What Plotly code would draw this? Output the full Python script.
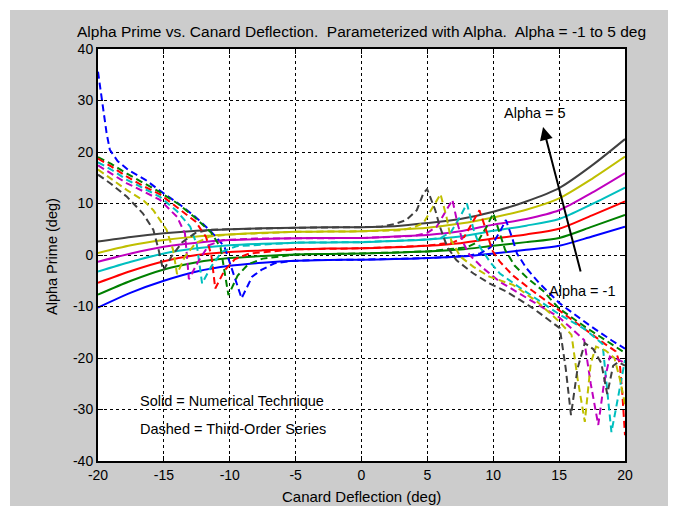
import plotly.graph_objects as go

# ---------------- data ----------------
alpha_labels = ["-1", "0", "1", "2", "3", "4", "5"]
colors = ["#0000ff", "#008000", "#ff0000", "#00bfbf", "#bf00bf", "#bfbf00", "#404040"]

# Solid = Numerical Technique
x_solid = [-20, -17.5, -15, -12.5, -10, -7.5, -5, -2.5, 0, 2.5, 5, 7.5, 10, 12.5, 15, 17.5, 20]
solid_m1 = [-10.2, -7.3, -5.0, -3.2, -2.1, -1.5, -1.1, -0.95, -0.9, -0.8, -0.6, -0.3, 0.3, 1.0, 1.8, 3.6, 5.5]
solid_0 = [-7.7, -5.0, -2.8, -1.4, -0.6, -0.2, 0.1, 0.2, 0.3, 0.45, 0.7, 1.05, 1.8, 2.5, 3.3, 5.5, 7.8]
solid_1 = [-5.4, -3.1, -1.2, 0.0, 0.6, 0.9, 1.1, 1.25, 1.3, 1.5, 1.8, 2.3, 3.2, 4.0, 5.1, 7.7, 10.4]
solid_2 = [-3.2, -1.3, 0.3, 1.3, 1.9, 2.2, 2.4, 2.45, 2.5, 2.7, 3.0, 3.6, 4.7, 5.7, 7.0, 9.9, 13.1]
solid_3 = [-1.3, 0.3, 1.6, 2.4, 2.9, 3.1, 3.25, 3.3, 3.3, 3.6, 3.9, 4.6, 5.9, 7.0, 8.7, 12.1, 15.9]
solid_4 = [0.4, 1.9, 2.9, 3.6, 4.0, 4.3, 4.5, 4.55, 4.6, 4.9, 5.3, 6.1, 7.3, 8.8, 11.0, 14.8, 19.1]
solid_5 = [2.6, 3.5, 4.2, 4.7, 5.0, 5.2, 5.3, 5.4, 5.4, 5.6, 6.2, 7.0, 8.4, 10.4, 13.0, 17.4, 22.5]

# Dashed = Third-Order Series
xd_m1 = [-20, -19.7, -19.35, -19.1, -18.5, -17.7, -16.4, -15.2, -13.9, -12.6, -11.4, -10.4, -9.8, -9.1,
         -8.3, -7.6, -6.6, -5.5, -4, 0, 5, 8.0, 9.0, 9.8, 10.5, 10.96, 11.4, 11.8, 12.5, 13.5, 14.5, 15,
         16, 17.5, 19, 20]
yd_m1 = [35.6, 30.4, 23.7, 20.4, 18.2, 16.5, 14.6, 12.3, 10.0, 7.4, 4.5, 1.6, -3.0, -8.4,
         -4.2, -2.9, -1.6, -1.2, -1.0, -0.9, -0.6, -0.2, 0.3, 1.5, 4.5, 6.8, 3.6, 0.3, -2.5, -5.5, -8.0, -9.3,
         -11.2, -14.0, -16.6, -18.2]

xd_0 = [-20, -19, -17.8, -16.5, -15.3, -13.9, -12.6, -11.4, -10.7, -10.1, -9.4, -8.6, -7.5, -5, 0, 5,
        8.0, 8.8, 9.5, 10.0, 10.5, 10.9, 11.6, 12.6, 13.8, 15, 17, 18.5, 20]
yd_0 = [19.0, 17.7, 15.8, 14.0, 12.2, 9.9, 7.2, 4.3, 1.5, -7.8, -4.0, -1.8, -0.7, 0.1, 0.3, 0.7,
        1.5, 2.5, 5.5, 8.1, 4.0, 1.0, -2.0, -4.5, -7.0, -10.4, -14.0, -16.5, -19.0]

xd_1 = [-20, -19, -17.8, -16.5, -15.3, -14.0, -12.6, -11.8, -11.4, -11.1, -10.4, -9.6, -8.5, -5, 0, 5,
        7.0, 7.8, 8.5, 8.95, 9.5, 9.9, 10.5, 11.5, 13, 15, 17, 18.5, 19.3, 19.6, 19.8, 20]
yd_1 = [18.7, 17.2, 15.2, 13.3, 11.8, 9.3, 6.5, 3.5, 0.0, -6.5, -3.0, -0.8, 0.3, 1.1, 1.3, 1.8,
        2.5, 3.5, 6.5, 8.7, 4.5, 1.0, -1.3, -4.0, -7.0, -10.8, -14.5, -17.3, -18.7, -21.0, -27.0, -35.0]

xd_2 = [-20, -19, -17.8, -16.5, -15.3, -14.0, -13.0, -12.5, -12.1, -11.4, -10.6, -9.5, -5, 0, 5,
        6.0, 6.8, 7.5, 8.0, 8.5, 9.0, 9.8, 10.5, 12, 15, 17, 18.3, 18.6, 18.97, 19.3, 19.6, 20]
yd_2 = [18.0, 16.6, 14.6, 12.8, 11.3, 8.5, 5.5, 2.0, -5.5, -2.2, 0.6, 1.7, 2.4, 2.5, 3.0,
        3.3, 4.5, 7.5, 10.0, 5.0, 1.5, -1.5, -3.6, -6.3, -11.5, -14.5, -17.3, -25.0, -34.4, -30.0, -25.6, -20.4]

xd_3 = [-20, -19, -17.8, -16.5, -15.3, -14.0, -13.4, -13.1, -12.4, -11.6, -10.5, -8, -5, 0, 4,
        5.0, 5.7, 6.4, 6.9, 7.3, 7.7, 8.2, 9.2, 10.5, 12, 15, 16.9, 17.4, 17.97, 18.4, 18.85, 19.5, 20]
yd_3 = [17.4, 15.8, 13.9, 12.3, 10.7, 7.4, 4.2, -4.7, -1.3, 1.9, 2.9, 3.2, 3.25, 3.3, 3.7,
        4.3, 5.5, 8.5, 10.7, 6.0, 2.5, 0.0, -2.5, -5.2, -7.5, -12.1, -16.5, -25.0, -33.0, -25.0, -19.7, -20.3, -21.0]

xd_4 = [-20, -19, -17.8, -16.5, -15.8, -14.8, -14.3, -14.0, -13.4, -12.6, -11.5, -10, -5, 0, 3,
        3.9, 4.7, 5.44, 6.0, 6.45, 6.8, 7.5, 8.5, 9.7, 11.5, 13.3, 15.0, 15.94, 16.4, 16.95, 17.4,
        17.8, 18.5, 19.2, 19.6, 20]
yd_4 = [16.6, 14.8, 12.6, 10.5, 8.7, 4.9, 1.0, -3.7, -0.3, 2.3, 3.6, 4.0, 4.5, 4.6, 4.8,
        5.3, 6.2, 9.4, 11.8, 7.4, 2.9, -0.3, -2.3, -4.2, -5.8, -9.0, -12.9, -15.5, -24.0, -32.4, -21.0,
        -17.8, -18.5, -20.0, -24.0, -29.0]

xd_5 = [-20, -19, -17.8, -16.6, -15.8, -15.4, -15.05, -14.4, -13.6, -12.6, -11.5, -10, -5, 0, 1.5,
        2.5, 3.4, 4.2, 4.7, 4.98, 5.3, 5.6, 5.95, 6.5, 7.2, 8.5, 9.7, 11.0, 13.0, 15.05, 15.5, 15.9,
        16.4, 16.95, 17.6, 18.2, 18.65, 19.1, 19.5, 20]
yd_5 = [15.6, 13.8, 11.3, 8.1, 4.9, 1.0, -3.0, -0.2, 2.5, 4.3, 4.9, 5.0, 5.3, 5.4, 5.5,
        6.0, 6.8, 8.7, 12.0, 12.8, 10.8, 8.7, 5.5, 1.6, -1.0, -3.6, -5.5, -7.1, -10.3, -14.2, -22.0, -31.1,
        -22.0, -17.1, -18.3, -21.0, -27.0, -21.5, -20.8, -21.5]

x_ticks = [-20, -15, -10, -5, 0, 5, 10, 15, 20]
y_ticks = [-40, -30, -20, -10, 0, 10, 20, 30, 40]

solids = [solid_m1, solid_0, solid_1, solid_2, solid_3, solid_4, solid_5]
dashed = [(xd_m1, yd_m1), (xd_0, yd_0), (xd_1, yd_1), (xd_2, yd_2),
          (xd_3, yd_3), (xd_4, yd_4), (xd_5, yd_5)]

FONT = "Liberation Sans, Arial, Helvetica, sans-serif"

fig = go.Figure()
for lab, col, ys in zip(alpha_labels, colors, solids):
    fig.add_trace(go.Scatter(x=x_solid, y=ys, mode="lines", name="alpha " + lab,
                             line=dict(color=col, width=2, shape="spline", smoothing=0.8),
                             showlegend=False, hoverinfo="skip"))
for lab, col, (xd, yd) in zip(alpha_labels, colors, dashed):
    fig.add_trace(go.Scatter(x=xd, y=yd, mode="lines", name="series " + lab,
                             line=dict(color=col, width=2, dash="7px,4px"),
                             showlegend=False, hoverinfo="skip"))

# plot area in pixels: left 98, right 625, top 49, bottom 461
L, R, T, B = 98, 52, 49, 50
W, H = 677, 511
pw, ph = W - L - R, H - T - B


def px(xp):
    return (xp - L) / pw


def py(yp):
    return (H - B - yp) / ph


axis_common = dict(showline=True, linecolor="black", linewidth=2, mirror="ticks",
                   ticks="inside", ticklen=5, tickwidth=1, tickcolor="black",
                   showgrid=True, gridcolor="black", gridwidth=1, griddash="3px,3px",
                   zeroline=False, tickfont=dict(family=FONT, size=14, color="black"))

fig.update_xaxes(range=[-20, 20], tickvals=x_ticks, ticktext=[str(v) for v in x_ticks], **axis_common)
fig.update_yaxes(range=[-40, 40], tickvals=y_ticks, ticktext=[str(v) for v in y_ticks], **axis_common)

shapes = [
    dict(type="rect", xref="paper", yref="paper", x0=px(10), x1=px(668), y0=py(10), y1=py(506),
         fillcolor="#cccccc", line=dict(width=0), layer="below"),
    dict(type="rect", xref="paper", yref="paper", x0=0, x1=1, y0=0, y1=1,
         fillcolor="white", line=dict(width=0), layer="below"),
]

annotations = [
    dict(text="Alpha Prime vs. Canard Deflection.  Parameterized with Alpha.  Alpha = -1 to 5 deg",
         xref="paper", yref="paper", x=0.5, y=py(31), xanchor="center", yanchor="middle",
         showarrow=False, font=dict(family=FONT, size=15.5, color="black")),
    dict(text="Canard Deflection (deg)", xref="paper", yref="paper", x=0.5, y=py(496),
         xanchor="center", yanchor="middle", showarrow=False,
         font=dict(family=FONT, size=15, color="black")),
    dict(text="Alpha Prime (deg)", xref="paper", yref="paper", x=px(52), y=py(257),
         xanchor="center", yanchor="middle", textangle=-90, showarrow=False,
         font=dict(family=FONT, size=14.5, color="black")),
    dict(text="Alpha = 5", x=13.17, y=27.6, xref="x", yref="y", showarrow=False,
         xanchor="center", yanchor="middle", font=dict(family=FONT, size=14.5, color="black")),
    dict(text="Alpha = -1", x=16.74, y=-7.0, xref="x", yref="y", showarrow=False,
         xanchor="center", yanchor="middle", font=dict(family=FONT, size=14.5, color="black")),
    dict(text="", x=13.78, y=24.85, xref="x", yref="y", ax=16.66, ay=-3.5, axref="x", ayref="y",
         showarrow=True, arrowhead=2, arrowsize=1.3, arrowwidth=2, arrowcolor="black", standoff=0),
    dict(text="Solid = Numerical Technique", x=-17.0, y=-28.3, xref="x", yref="y", showarrow=False,
         xanchor="left", yanchor="middle", font=dict(family=FONT, size=14.5, color="black")),
    dict(text="Dashed = Third-Order Series", x=-17.0, y=-33.7, xref="x", yref="y", showarrow=False,
         xanchor="left", yanchor="middle", font=dict(family=FONT, size=14.5, color="black")),
]

fig.update_layout(width=W, height=H, autosize=False,
                  margin=dict(l=L, r=R, t=T, b=B, pad=0),
                  paper_bgcolor="white", plot_bgcolor="white",
                  shapes=shapes, annotations=annotations, showlegend=False,
                  font=dict(family=FONT, size=14, color="black"))

fig.write_html("out.html")
